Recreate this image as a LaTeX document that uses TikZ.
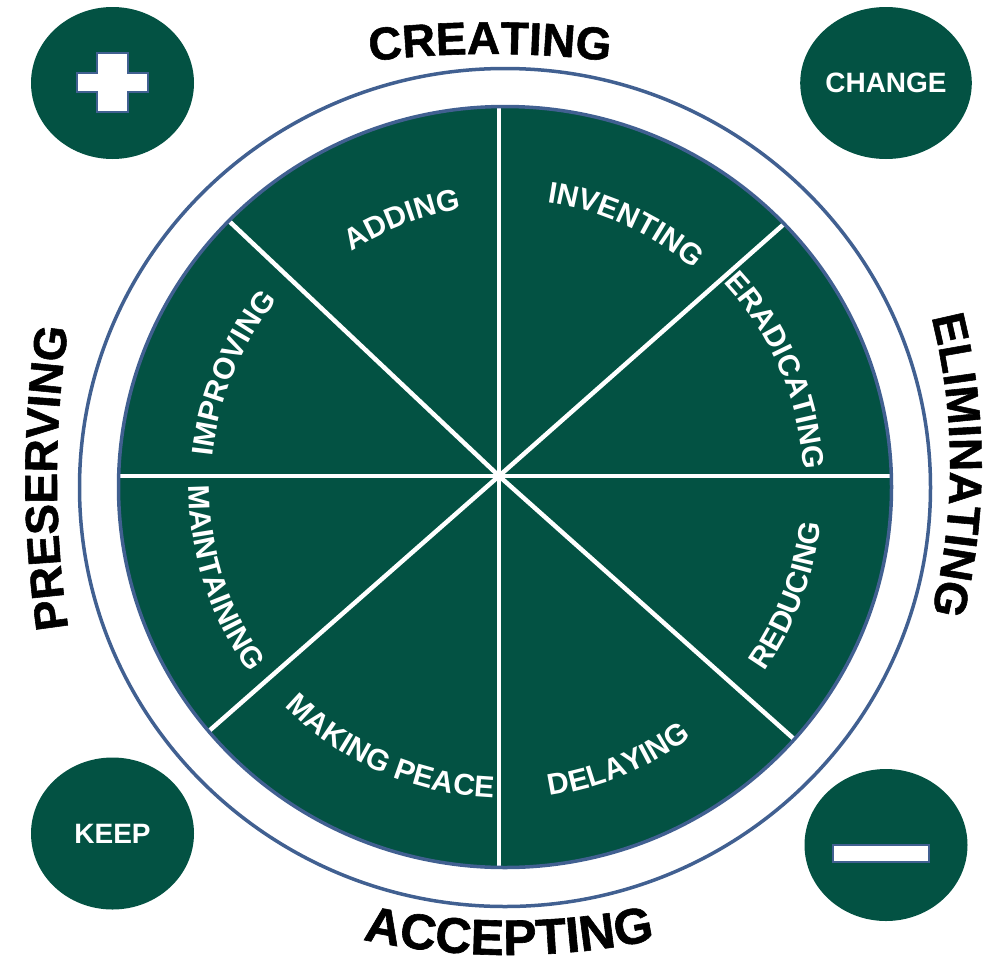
\documentclass[tikz,border=0pt]{standalone}
\usepackage{fontspec}
\setmainfont{Liberation Sans}
\newfontfamily\heavyfamily[FakeBold=1.2]{Liberation Sans Bold}
\usetikzlibrary{decorations.text,calc,shapes.geometric}
\definecolor{wheelgreen}{RGB}{3,82,67}
\definecolor{ringblue}{RGB}{65,96,145}
\newcommand\outerfont{\heavyfamily\fontsize{46}{50}\selectfont}
\newcommand\bottomfont{\heavyfamily\fontsize{50}{54}\selectfont}
\newcommand\innerfont{\bfseries\fontsize{30}{34}\selectfont}
\newcommand\badgefont{\bfseries\fontsize{28}{32}\selectfont}
% #1 centre, #2 radius, #3 start angle, #4 end angle, #5 colour, #6 format, #7 text
\newcommand\arclabel[7]{%
  \path[decorate,decoration={text along path,text align=center,text color=#5,text={|#6|#7}}]
    ($(#1)+(#3:#2)$) arc[start angle=#3,end angle=#4,radius=#2];}
\tikzset{
  corner/.style={ellipse,fill=wheelgreen,minimum width=163,minimum height=152,inner sep=0,text=white,font=\badgefont},
  ringline/.style={draw=ringblue,line width=3.5},
  divider/.style={draw=white,line width=4.5},
  signshape/.style={fill=white,draw=ringblue,line width=2.4},
}
\begin{document}
\begin{tikzpicture}[x=1pt,y=1pt]
\useasboundingbox (0,0) rectangle (993,-967);
% outer ring
\coordinate (ringc) at (505,-487.5);
\draw[ringline] (ringc) ellipse[x radius=425.5,y radius=419];
% inner disk
\coordinate (C) at (505,-487);
\fill[wheelgreen] (C) ellipse[x radius=386.5,y radius=380.5];
\coordinate (hub) at (499,-476);
\coordinate (e1) at (499,-104);
\coordinate (e2) at (784,-224);
\coordinate (e3) at (894,-476);
\coordinate (e4) at (794,-739);
\coordinate (e5) at (499,-870);
\coordinate (e6) at (209,-731);
\coordinate (e7) at (116,-476);
\coordinate (e8) at (229,-221);
\foreach \e in {e1,e2,e3,e4,e5,e6,e7,e8}{\draw[divider] (hub) -- (\e);}
\draw[draw=ringblue,line width=3.5] (C) ellipse[x radius=386.5,y radius=380.5];
% corner badges
\node[corner] (plus) at (112.5,-83) {};
\node[corner] (change) at (886,-83) {CHANGE};
\node[corner] (keep) at (112.5,-833.5) {KEEP};
\node[corner] (minus) at (886,-845) {};
\draw[signshape,shift={(plus.center)}] (-15.3,29.8) -- (15.3,29.8) -- (15.3,9.8) -- (35.3,9.8) -- (35.3,-8.8) -- (15.3,-8.8) -- (15.3,-28.8) -- (-15.3,-28.8) -- (-15.3,-8.8) -- (-35.3,-8.8) -- (-35.3,9.8) -- (-15.3,9.8) -- cycle;
\draw[signshape,shift={(minus.center)}] (-52.8,-0.2) rectangle (42.8,-16.8);
% outer labels
\coordinate (ctop) at (490,-1054);
\coordinate (cbot) at (509,-255);
\coordinate (cleft) at (1057,-478);
\coordinate (cright) at (350,-465);
\arclabel{ctop}{1000}{102}{78}{black}{\outerfont}{CREATING}
\arclabel{cbot}{700}{248}{292}{black}{\bottomfont}{ACCEPTING}
\arclabel{cleft}{1000}{192}{168}{black}{\outerfont}{PRESERVING}
\arclabel{cright}{600}{22}{-22}{black}{\outerfont}{ELIMINATING}
% inner labels
\arclabel{C}{294}{187.3}{127.3}{white}{\innerfont}{IMPROVING}
\arclabel{C}{281}{141}{81}{white}{\innerfont}{ADDING}
\arclabel{C}{288}{95.3}{35.3}{white}{\innerfont}{INVENTING}
\arclabel{C}{299}{53.2}{-6.8}{white}{\innerfont}{ERADICATING}
\arclabel{C}{318}{-51}{9}{white}{\innerfont}{REDUCING}
\arclabel{C}{312}{-97.5}{-37.5}{white}{\innerfont}{DELAYING}
\arclabel{C}{311}{216.4}{276.4}{white}{\innerfont}{MAKING PEACE}
\arclabel{C}{316}{167.8}{227.8}{white}{\innerfont}{MAINTAINING}
\end{tikzpicture}
\end{document}
